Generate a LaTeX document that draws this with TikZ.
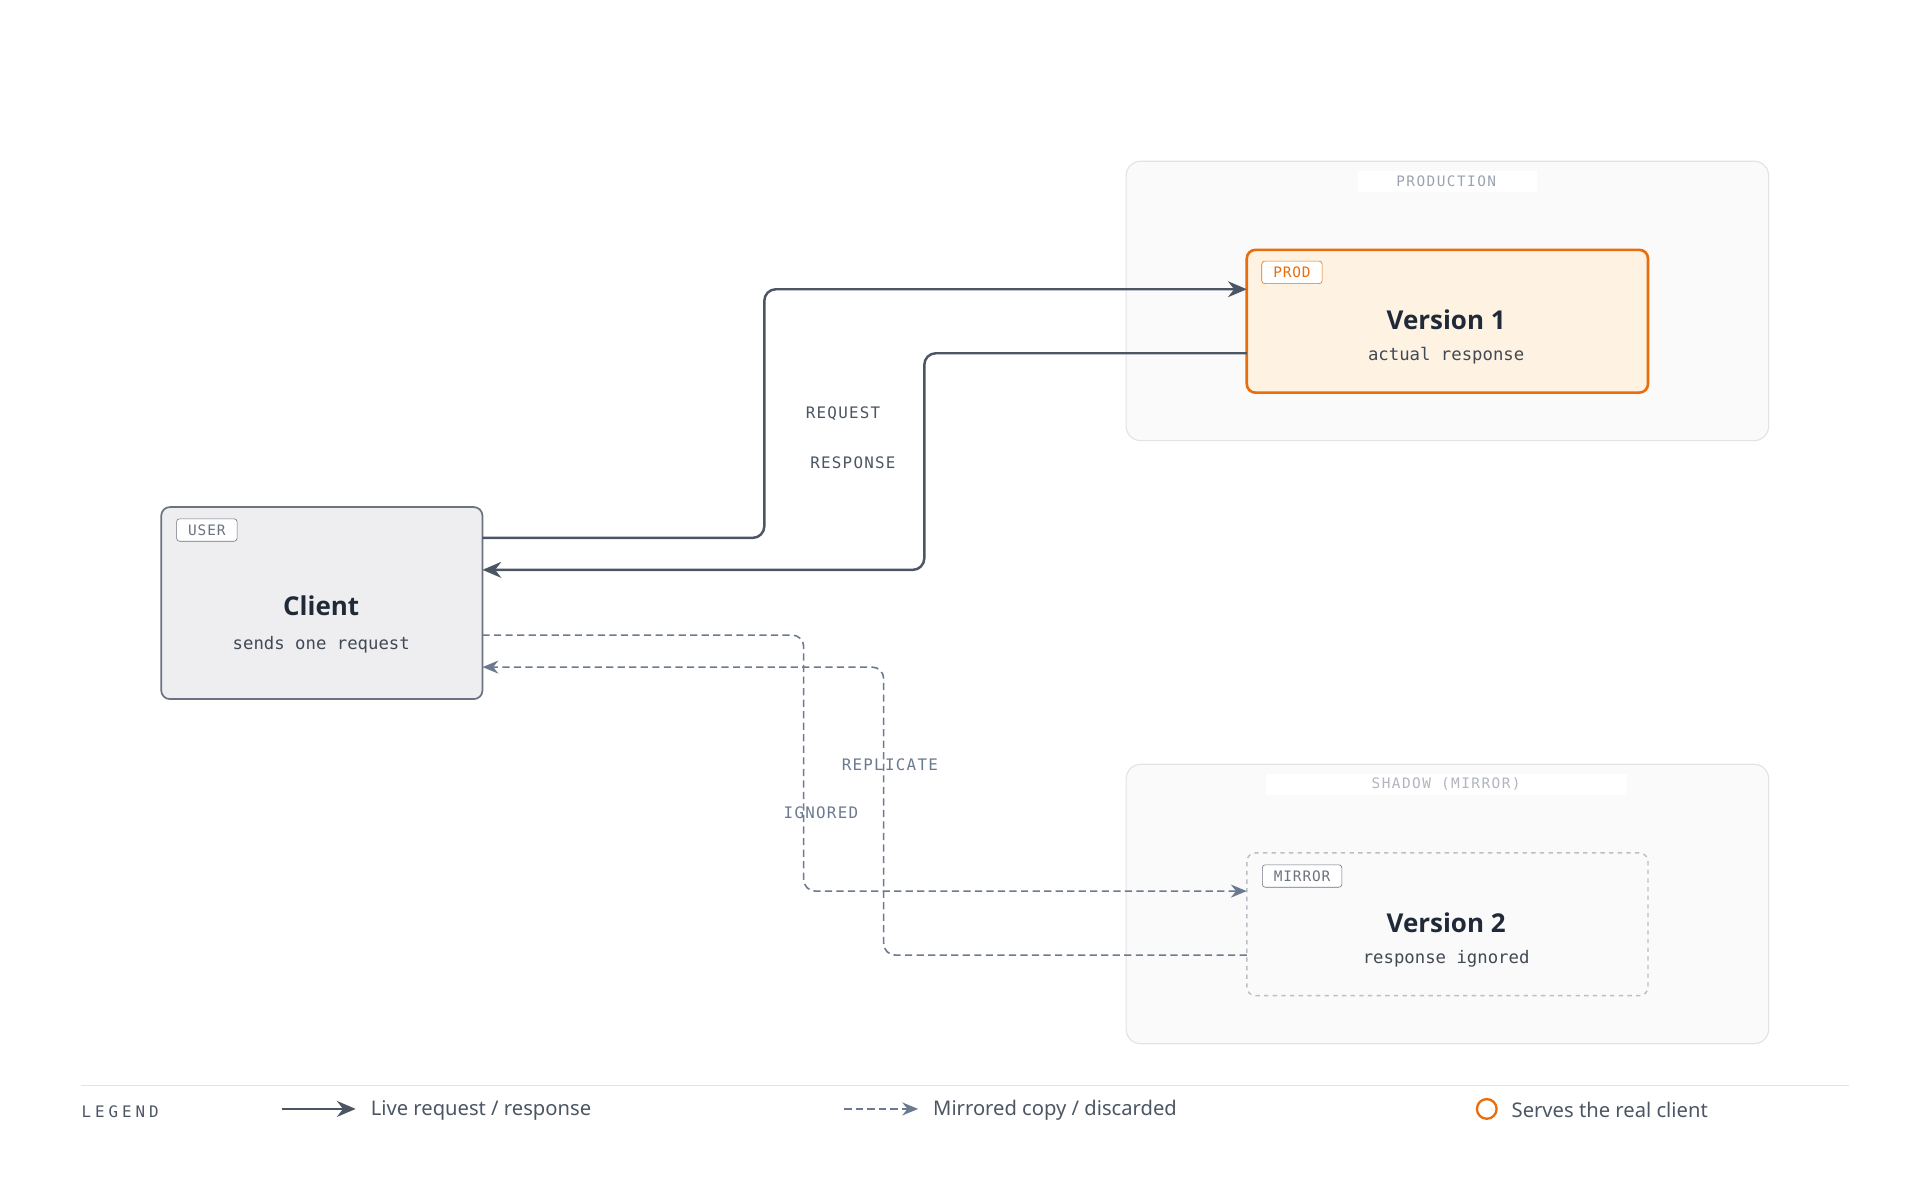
\documentclass[tikz,border=0pt]{standalone}
\usepackage{fontspec}
\setmainfont{Noto Sans}
\setsansfont{Noto Sans}
\setmonofont{DejaVu Sans Mono}
\newfontfamily\titlefont{Open Sans}
\usetikzlibrary{positioning,arrows.meta}
\definecolor{panelfill}{HTML}{FAFAFA}
\definecolor{panelline}{HTML}{E3E3E3}
\definecolor{prodfill}{HTML}{FEF3E2}
\definecolor{prodline}{HTML}{EA6C0A}
\definecolor{clientfill}{HTML}{EEEEF0}
\definecolor{clientline}{HTML}{6B7280}
\definecolor{live}{HTML}{4B5563}
\definecolor{mirror}{HTML}{6B7A90}
\definecolor{dim}{HTML}{9CA3AF}
\definecolor{ink}{HTML}{1F2937}
\tikzset{
  panel/.style={draw=panelline, fill=panelfill, rounded corners=10pt, line width=0.8pt},
  box/.style={rounded corners=6pt, minimum width=326*0.03cm, minimum height=116*0.03cm},
  tag/.style={draw, rounded corners=2pt, font=\ttfamily\fontsize{10}{12}\selectfont\addfontfeature{LetterSpace=6}, inner xsep=8pt, inner ysep=4pt, anchor=north west},
  title/.style={font=\titlefont\fontsize{18}{22}\selectfont\bfseries, text=ink},
  sub/.style={font=\ttfamily\fontsize{12}{14}\selectfont, text=ink!85},
  lbl/.style={font=\ttfamily\fontsize{11}{13}\selectfont\addfontfeature{LetterSpace=8}},
  livearr/.style={draw=live, line width=1.7pt, rounded corners=8pt, -{Stealth[length=13pt,width=11pt]}},
  mirrorarr/.style={draw=mirror, line width=1.1pt, dash pattern=on 5pt off 3pt, rounded corners=8pt, -{Stealth[length=11pt,width=9pt]}}
}
\begin{document}
\begin{tikzpicture}[x=0.03cm, y=-0.03cm]
\useasboundingbox (0,0) rectangle (1560,975);

% panels
\draw[panel] (915,131) rectangle (1437,358);
\draw[panel] (915,621) rectangle (1437,848);
\fill[white] (1103,139) rectangle (1249,156);
\fill[white] (1029,629) rectangle (1322,646);
\node[lbl, text=dim, font=\ttfamily\fontsize{10}{12}\selectfont\addfontfeature{LetterSpace=10}] (prodlbl) at (1175,147) {PRODUCTION};
\node[lbl, text=dim!80, font=\ttfamily\fontsize{10}{12}\selectfont\addfontfeature{LetterSpace=10}] (shadowlbl) at (1175,637) {SHADOW (MIRROR)};

% boxes
\node[box, draw=prodline, fill=prodfill, line width=1.8pt] (v1) at (1176,261) {};
\node[box, draw=dim!70, fill=panelfill, dashed, line width=1pt] (v2) at (1176,751) {};
\node[box, draw=clientline, fill=clientfill, line width=1.2pt, minimum width=261*0.03cm, minimum height=156*0.03cm] (client) at (261.5,490) {};

\node[tag, draw=prodline, text=prodline, fill=white] (prodtag) at ([xshift=13*0.03cm, yshift=-10*0.03cm]v1.north west) {PROD};
\node[tag, draw=clientline, text=clientline, fill=white] (mirrortag) at ([xshift=13*0.03cm, yshift=-10*0.03cm]v2.north west) {MIRROR};
\node[tag, draw=clientline, text=clientline, fill=white] (usertag) at ([xshift=13*0.03cm, yshift=-10*0.03cm]client.north west) {USER};

\node[title] (v1title) at (1175,260) {Version 1};
\node[sub] (v1sub) at (1175,289) {actual response};
\node[title] (v2title) at (1175,750) {Version 2};
\node[sub] (v2sub) at (1175,779) {response ignored};
\node[title] (cltitle) at (261,492) {Client};
\node[sub] (clsub) at (261,524) {sends one request};

% live path
\coordinate (reqout) at (392,437);
\coordinate (reqin) at (1013,235);
\coordinate (resout) at (1013,287);
\coordinate (resin) at (392,463);
\draw[livearr] (reqout) -- (621,437) -- (621,235) -- (reqin);
\draw[livearr] (resout) -- (751,287) -- (751,463) -- (resin);
\node[lbl, text=live] (reqlbl) at (685,336) {REQUEST};
\node[lbl, text=live] (reslbl) at (693,376) {RESPONSE};

% mirror path
\coordinate (repout) at (392,516);
\coordinate (repin) at (1013,724);
\coordinate (ignout) at (1013,776);
\coordinate (ignin) at (392,542);
\draw[mirrorarr] (repout) -- (653,516) -- (653,724) -- (repin);
\draw[mirrorarr] (ignout) -- (718,776) -- (718,542) -- (ignin);
\node[lbl, text=mirror] (replbl) at (723,621) {REPLICATE};
\node[lbl, text=mirror] (ignlbl) at (667,660) {IGNORED};

% legend
\draw[panelline, line width=1pt] (66,882) -- (1502,882);
\node[lbl, text=live, anchor=west, inner sep=0pt, font=\ttfamily\fontsize{11}{13}\selectfont\addfontfeature{LetterSpace=25}] (legend) at (66,903) {LEGEND};
\coordinate (la) at (229,901);
\coordinate (lb) at (289,901);
\draw[livearr] (la) -- (lb);
\node[anchor=west, inner sep=0pt, text=live, font=\fontsize{14}{17}\selectfont] (livetxt) at (301,902) {Live request / response};
\coordinate (ma) at (686,901);
\coordinate (mb) at (746,901);
\draw[mirrorarr] (ma) -- (mb);
\node[anchor=west, inner sep=0pt, text=live, font=\fontsize{14}{17}\selectfont] (mirtxt) at (758,902) {Mirrored copy / discarded};
\draw[prodline, line width=1.6pt] (1208,901) circle (8);
\node[anchor=west, inner sep=0pt, text=live, font=\fontsize{14}{17}\selectfont] (realtxt) at (1228,902) {Serves the real client};
\end{tikzpicture}
\end{document}
